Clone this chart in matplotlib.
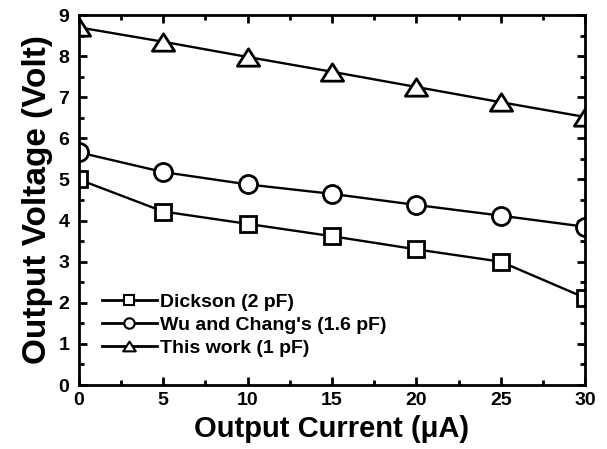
import matplotlib
matplotlib.use("Agg")
import matplotlib.pyplot as plt
from matplotlib.ticker import MultipleLocator
from matplotlib.path import Path

plt.rcParams['font.family'] = ['Liberation Sans', 'DejaVu Sans']
plt.rcParams['font.weight'] = 'bold'

current = [0, 5, 10, 15, 20, 25, 30]
dickson = [5.0, 4.22, 3.92, 3.62, 3.30, 3.00, 2.12]
wu_chang = [5.66, 5.18, 4.88, 4.65, 4.38, 4.12, 3.85]
this_work = [8.70, 8.35, 7.98, 7.62, 7.25, 6.88, 6.52]

wide_tri = Path([(0, 0.78), (-1, -0.78), (1, -0.78), (0, 0.78)],
                [Path.MOVETO, Path.LINETO, Path.LINETO, Path.CLOSEPOLY])

fig = plt.figure(figsize=(6.07, 4.49), dpi=100)
ax = fig.add_axes([0.130, 0.1425, 0.834, 0.824])

common = dict(color='black', linewidth=1.7, markerfacecolor='white',
              markeredgecolor='black', markeredgewidth=2.0)
ax.plot(current, dickson, marker='s', markersize=12, label='Dickson (2 pF)', **common)
ax.plot(current, wu_chang, marker='o', markersize=13, label="Wu and Chang's (1.6 pF)", **common)
ax.plot(current, this_work, marker=wide_tri, markersize=16, label='This work (1 pF)', **common)

ax.set_xlim(0, 30)
ax.set_ylim(0, 9)
ax.xaxis.set_major_locator(MultipleLocator(5))
ax.xaxis.set_minor_locator(MultipleLocator(2.5))
ax.yaxis.set_major_locator(MultipleLocator(1))
ax.yaxis.set_minor_locator(MultipleLocator(0.5))
ax.tick_params(which='both', direction='in', top=True, right=True, width=2)
ax.tick_params(which='major', length=6, labelsize=14)
ax.tick_params(axis='y', which='major', pad=7)
ax.tick_params(axis='x', which='major', pad=5)
ax.tick_params(which='minor', length=3.5)
for lab in ax.get_xticklabels() + ax.get_yticklabels():
    lab.set_fontweight('bold')
for s in ax.spines.values():
    s.set_linewidth(2)

ax.set_xlabel('Output Current (\u03bcA)', fontsize=21, fontweight='bold', labelpad=4)
ax.set_ylabel('Output Voltage (Volt)', fontsize=24, fontweight='bold', labelpad=4)

leg = ax.legend(loc='lower left', bbox_to_anchor=(0.045, 0.075), frameon=False,
                prop={'size': 14, 'weight': 'bold'}, handlelength=2.85,
                handletextpad=0.15, labelspacing=0.28, borderaxespad=0, borderpad=0)
for h, ms in zip(leg.legend_handles, [7, 7.5, 9]):
    h.set_markersize(ms)
    h.set_markeredgewidth(1.5)
    h.set_linewidth(2)

fig.savefig('out.png', dpi=100)
